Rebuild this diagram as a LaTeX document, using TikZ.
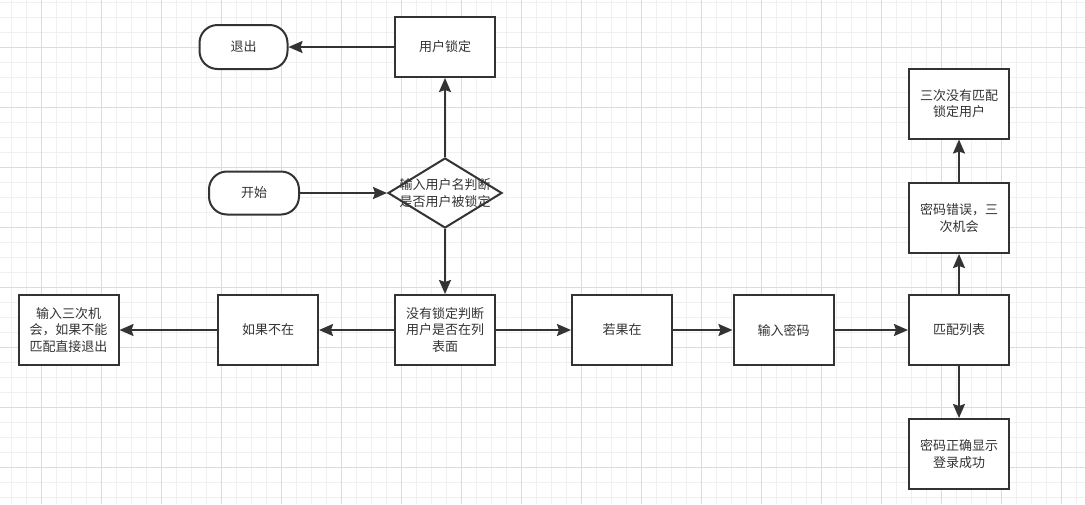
\documentclass[tikz,border=0pt]{standalone}
\usepackage{fontspec}
\newfontfamily\cjk{Noto Sans CJK SC}
\usetikzlibrary{arrows.meta,shapes.geometric}
\definecolor{ln}{HTML}{333333}
\definecolor{gminor}{HTML}{F0F0F0}
\definecolor{gmajor}{HTML}{DCDCDC}
\tikzset{
  box/.style={draw=ln, line width=2pt, fill=white, minimum width=100pt, minimum height=70pt, inner sep=0pt, align=center, text=ln, font=\cjk\fontsize{13}{16.5}\selectfont},
  term/.style={box, rounded corners=18pt, minimum width=88pt, minimum height=44pt},
  dia/.style={draw=ln, line width=2pt, fill=white, shape=diamond, inner sep=0pt, minimum width=114pt, minimum height=70pt},
  lbl/.style={align=center, text=ln, inner sep=0pt, font=\cjk\fontsize{13}{16.5}\selectfont},
  conn/.style={draw=ln, line width=2pt, -{Stealth[length=14pt,width=12pt,inset=2pt]}},
  minor/.style={draw=gminor, line width=0.8pt},
  major/.style={draw=gmajor, line width=0.9pt}
}
\begin{document}
\begin{tikzpicture}[x=1pt,y=-1pt]
\useasboundingbox (0,0) rectangle (1085,504);
\fill[white] (0,0) rectangle (1085,504);
% grid
\foreach \i in {0,...,72} \draw[minor] ({11.7+15*\i},0) -- ++(0,504);
\foreach \i in {0,...,33} \draw[minor] (0,{2+15*\i}) -- ++(1085,0);
\foreach \i in {0,...,17} \draw[major] ({41.7+60*\i},0) -- ++(0,504);
\foreach \i in {0,...,7} \draw[major] (0,{47+60*\i}) -- ++(1085,0);
% nodes
\node[term] (exit) at (243.5,47) {退出};
\node[box, minimum height=60pt] (lock) at (445,47) {用户锁定};
\node[term, minimum width=90pt, minimum height=43pt] (start) at (254,193) {开始};
\node[dia] (judge) at (445,193) {};
\node[lbl] (judgetxt) at (judge.center) {输入用户名判断\\是否用户被锁定};
\node[box] (inp3) at (68.5,330) {输入三次机\\会，如果不能\\匹配直接退出};
\node[box] (notin) at (268,330) {如果不在};
\node[box] (nolock) at (445,330) {没有锁定判断\\用户是否在列\\表面};
\node[box] (ifin) at (622,330) {若果在};
\node[box] (pwd) at (783.5,330) {输入密码};
\node[box] (match) at (959,330) {匹配列表};
\node[box] (err) at (959,218) {密码错误，三\\次机会};
\node[box] (lockuser) at (959,103.5) {三次没有匹配\\锁定用户};
\node[box] (ok) at (959,454) {密码正确显示\\登录成功};
% connectors
\draw[conn] (lock.west) -- (exit.east);
\draw[conn] (start.east) -- (judge.west);
\draw[conn] (judge.north) -- (lock.south);
\draw[conn] (judge.south) -- (nolock.north);
\draw[conn] (nolock.west) -- (notin.east);
\draw[conn] (notin.west) -- (inp3.east);
\draw[conn] (nolock.east) -- (ifin.west);
\draw[conn] (ifin.east) -- (pwd.west);
\draw[conn] (pwd.east) -- (match.west);
\draw[conn] (match.north) -- (err.south);
\draw[conn] (err.north) -- (lockuser.south);
\draw[conn] (match.south) -- (ok.north);
\end{tikzpicture}
\end{document}
